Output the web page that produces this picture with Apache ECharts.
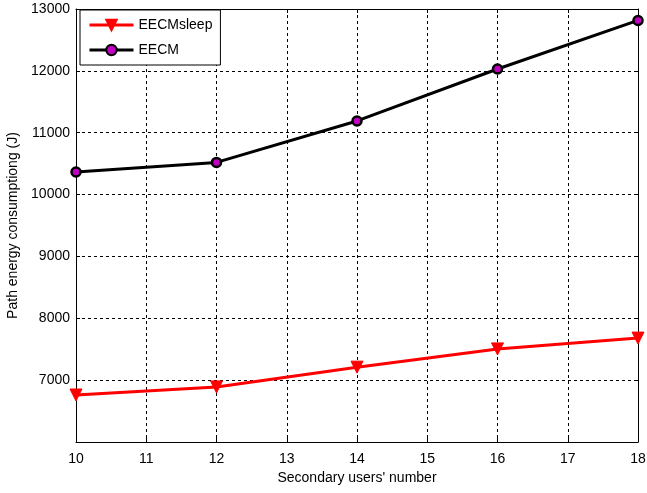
<!DOCTYPE html>
<html>
<head>
<meta charset="utf-8">
<script src="https://cdn.jsdelivr.net/npm/echarts@6/dist/echarts.min.js"></script>
<style>
  html, body { margin: 0; padding: 0; background: #fff; }
  #chart { width: 647px; height: 493px; }
</style>
</head>
<body>
<div id="chart"></div>
<script>
const users = [10, 12, 14, 16, 18];
const sleepEnergy = [6760, 6890, 7210, 7505, 7680];
const eecmEnergy = [10365, 10520, 11190, 12030, 12815];

const font = 'Liberation Sans, Arial, sans-serif';
const dashed = { show: true, lineStyle: { color: '#000', type: [3, 3], width: 1 } };

const chart = echarts.init(document.getElementById('chart'));

chart.setOption({
  animation: false,
  backgroundColor: '#fff',
  grid: { left: 76, right: 9, top: 9, bottom: 51, containLabel: false, outerBoundsMode: 'none' },
  legend: {
    left: 80, top: 10, orient: 'vertical',
    backgroundColor: '#fff', borderColor: '#000', borderWidth: 1,
    padding: [8, 8, 8, 8], itemGap: 11, itemWidth: 44, itemHeight: 13,
    lineStyle: { width: 3 },
    textStyle: { fontFamily: font, fontSize: 14, color: '#000' },
    data: ['EECMsleep', 'EECM']
  },
  xAxis: [{
    type: 'value', min: 10, max: 18, interval: 1,
    name: "Secondary users' number", nameLocation: 'middle', nameGap: 27,
    nameTextStyle: { fontFamily: font, fontSize: 14, color: '#000' },
    axisLine: { lineStyle: { color: '#000' } },
    axisTick: { inside: true, length: 4, lineStyle: { color: '#000' } },
    axisLabel: { fontFamily: font, fontSize: 14, color: '#000', margin: 10 },
    splitLine: dashed
  }, {
    type: 'value', min: 10, max: 18, interval: 1, position: 'top',
    axisLine: { show: true, lineStyle: { color: '#000' } },
    axisTick: { inside: true, length: 4, lineStyle: { color: '#000' } },
    axisLabel: { show: false }, splitLine: { show: false }
  }],
  yAxis: [{
    type: 'value', min: 6000, max: 13000, interval: 1000,
    name: 'Path energy consumptiong (J)', nameLocation: 'middle', nameGap: 54,
    nameTextStyle: { fontFamily: font, fontSize: 14, color: '#000' },
    axisLine: { show: true, lineStyle: { color: '#000' } },
    axisTick: { show: true, inside: true, length: 4, lineStyle: { color: '#000' } },
    axisLabel: { fontFamily: font, fontSize: 14, color: '#000', margin: 6, showMinLabel: false,
      formatter: v => String(v) },
    splitLine: dashed
  }, {
    type: 'value', min: 6000, max: 13000, interval: 1000, position: 'right',
    axisLine: { show: true, lineStyle: { color: '#000' } },
    axisTick: { show: true, inside: true, length: 4, lineStyle: { color: '#000' } },
    axisLabel: { show: false }, splitLine: { show: false }
  }],
  series: [{
    name: 'EECMsleep', type: 'line',
    data: users.map((x, i) => [x, sleepEnergy[i]]),
    symbol: 'triangle', symbolRotate: 180, symbolSize: 12,
    lineStyle: { color: '#ff0000', width: 3 },
    itemStyle: { color: '#ff0000', borderColor: '#ff0000', borderWidth: 1 },
    z: 3
  }, {
    name: 'EECM', type: 'line',
    data: users.map((x, i) => [x, eecmEnergy[i]]),
    symbol: 'circle', symbolSize: 9,
    lineStyle: { color: '#000', width: 3 },
    itemStyle: { color: '#c000c0', borderColor: '#000', borderWidth: 2.5 },
    z: 3
  }]
});
</script>
</body>
</html>
